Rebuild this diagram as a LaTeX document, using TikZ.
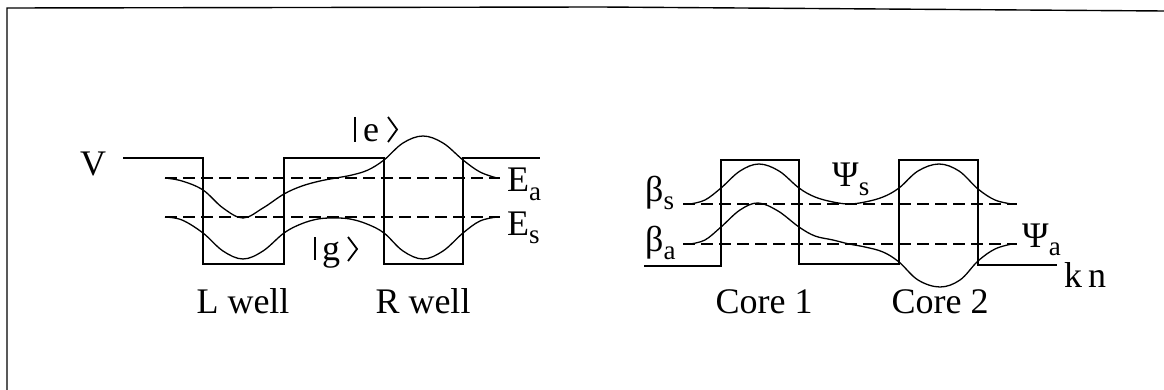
\documentclass[tikz,border=0pt]{standalone}
\usepackage{fontspec}
\setmainfont{Liberation Serif}
\newcommand\dnsub[1]{\raisebox{-9pt}{\fontsize{27}{27}\selectfont #1}}
\begin{document}
\begin{tikzpicture}[x=1pt,y=-1pt,
  prof/.style={line width=1.3pt, line join=miter},
  wave/.style={line width=1.3pt, smooth, tension=0.6},
  lev/.style={line width=1.2pt, dash pattern=on 12pt off 6pt},
  lbl/.style={font=\fontsize{36}{42}\selectfont, inner sep=0pt},
  ketstroke/.style={line width=1.8pt, line join=miter},
  frame/.style={line width=1.4pt}]
\useasboundingbox (0,0) rectangle (1164,390);
% frame
\draw[frame] (7,390) -- (7,8) -- (600,7) -- (1164,11);
% ---------------- left: double well ----------------
\draw[prof] (123,158) -- (203,158) -- (203,264) -- (284,264) -- (284,158) -- (384,158)
  -- (384,264) -- (463,264) -- (463,158) -- (540,158);
\draw[lev] (165,178) -- (500,178);
\draw[lev] (165,217) -- (500,217);
% |e> antisymmetric
\draw[wave] plot coordinates {(165,178) (182,181) (203,190) (223,208) (243,218) (263,208)
  (284,194) (302,186) (320,181) (336,178) (352,175) (368,170) (384,160) (403,143)
  (423,136) (443,143) (463,160) (480,172) (497,178)};
% |g> symmetric
\draw[wave] plot coordinates {(165,217) (182,220) (203,233) (223,251) (243,259) (263,251)
  (284,233) (301,224) (318,219) (334,218) (350,219) (367,224) (384,233) (403,251)
  (423,259) (443,251) (463,233) (480,221) (497,217)};
\node[lbl, anchor=base] (V) at (93,176) {V};
% |e>
\node[lbl, anchor=base] (ket-e) at (371,142) {e};
\draw[ketstroke] (355,117) -- (355,142);
\draw[ketstroke] (388,117) -- (397,129.5) -- (388,142);
% |g>
\node[lbl, anchor=base] (ket-g) at (331,260) {g};
\draw[ketstroke] (315,237) -- (315,260);
\draw[ketstroke] (348,237) -- (357,249) -- (348,261);
\node[lbl, anchor=base west] (Ea) at (507,192) {E\dnsub{a}};
\node[lbl, anchor=base west] (Es) at (507,235) {E\dnsub{s}};
\node[lbl, anchor=base] (Lwell) at (243,313) {L well};
\node[lbl, anchor=base] (Rwell) at (423,313) {R well};
% ---------------- right: two-core coupler ----------------
\draw[prof] (644,266) -- (721,266) -- (721,160) -- (799,160) -- (799,264) -- (899,264)
  -- (899,160) -- (978,160) -- (978,265) -- (1057,265);
\draw[lev] (683,204) -- (1017,204);
\draw[lev] (683,244) -- (1017,244);
% Psi_s symmetric
\draw[wave] plot coordinates {(690,204) (705,200) (721,188) (740,171) (759,164) (779,171)
  (799,188) (815,197) (833,202) (849,204) (865,202) (883,197) (899,188) (918,171)
  (939,164) (959,171) (978,189) (995,200) (1012,204)};
% Psi_a antisymmetric
\draw[wave] plot coordinates {(690,244) (705,240) (721,227) (740,210) (758,203) (778,211)
  (799,227) (815,236) (833,240) (849,244) (865,247) (883,252) (899,262) (918,280)
  (940,287) (960,280) (978,261) (995,249) (1012,244)};
\node[lbl, anchor=base west] (bs) at (645,201) {β\dnsub{s}};
\node[lbl, anchor=base west] (ba) at (645,251) {β\dnsub{a}};
\node[lbl, anchor=base west] (Ps) at (832,187) {Ψ\dnsub{s}};
\node[lbl, anchor=base west] (Pa) at (1022,247) {Ψ\dnsub{a}};
\node[lbl, anchor=base west] (kn) at (1064,287) {k\,n};
\node[lbl, anchor=base] (core1) at (764,313) {Core 1};
\node[lbl, anchor=base] (core2) at (940,313) {Core 2};
\end{tikzpicture}
\end{document}
